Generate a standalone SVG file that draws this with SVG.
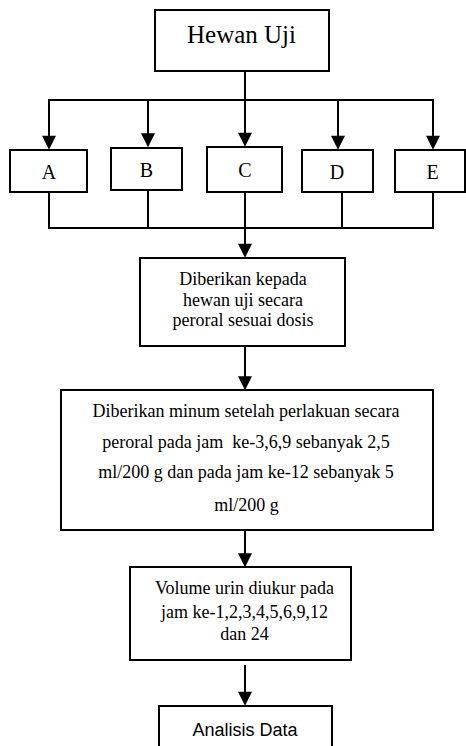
<svg xmlns="http://www.w3.org/2000/svg" width="466" height="746" viewBox="0 0 466 746">
  <style>
    .box { fill: #ffffff; stroke: #000000; stroke-width: 2; }
    .ln { fill: none; stroke: #000000; stroke-width: 2; }
    .t { font-family: "Liberation Serif", "Times New Roman", serif; font-size: 18px; fill: #000000; text-anchor: middle; white-space: pre; }
    .big { font-size: 25px; }
    .let { font-size: 20px; }
    .sans { font-family: "Liberation Sans", Arial, sans-serif; font-size: 18px; }
  </style>
  <defs>
    <marker id="arr" viewBox="0 0 10 10" refX="7" refY="5" markerWidth="15" markerHeight="14" markerUnits="userSpaceOnUse" orient="auto">
      <path d="M0,0 L10,5 L0,10 Z" fill="#000000"/>
    </marker>
  </defs>

  <g id="connectors">
    <line class="ln" x1="245" y1="71" x2="245" y2="100"/>
    <line class="ln" x1="48" y1="100" x2="434" y2="100"/>
    <line class="ln" x1="49" y1="100" x2="49" y2="145.5" marker-end="url(#arr)"/>
    <line class="ln" x1="148" y1="100" x2="148" y2="143" marker-end="url(#arr)"/>
    <line class="ln" x1="245" y1="100" x2="245" y2="142.5" marker-end="url(#arr)"/>
    <line class="ln" x1="338" y1="100" x2="338" y2="145.5" marker-end="url(#arr)"/>
    <line class="ln" x1="433" y1="100" x2="433" y2="145.5" marker-end="url(#arr)"/>
    <line class="ln" x1="49" y1="192" x2="49" y2="228"/>
    <line class="ln" x1="148" y1="190" x2="148" y2="228"/>
    <line class="ln" x1="342" y1="192" x2="342" y2="228"/>
    <line class="ln" x1="433" y1="192" x2="433" y2="228"/>
    <line class="ln" x1="48" y1="228" x2="434" y2="228"/>
    <line class="ln" x1="245" y1="192" x2="245" y2="253.5" marker-end="url(#arr)"/>
    <line class="ln" x1="245" y1="346" x2="245" y2="386" marker-end="url(#arr)"/>
    <line class="ln" x1="245" y1="530" x2="245" y2="563" marker-end="url(#arr)"/>
    <line class="ln" x1="245" y1="665" x2="245" y2="701.5" marker-end="url(#arr)"/>
  </g>

  <g id="hewan-uji">
    <rect class="box" x="155" y="10" width="174" height="61"/>
    <text class="t big" x="241.5" y="43">Hewan Uji</text>
  </g>
  <g id="A">
    <rect class="box" x="10" y="150" width="77" height="42"/>
    <text class="t let" x="49" y="179">A</text>
  </g>
  <g id="B">
    <rect class="box" x="111" y="148" width="71" height="42"/>
    <text class="t let" x="146.5" y="176.5">B</text>
  </g>
  <g id="C">
    <rect class="box" x="207" y="147" width="75" height="45"/>
    <text class="t let" x="245" y="177">C</text>
  </g>
  <g id="D">
    <rect class="box" x="302" y="150" width="71" height="42"/>
    <text class="t let" x="337" y="179">D</text>
  </g>
  <g id="E">
    <rect class="box" x="395" y="150" width="70" height="42"/>
    <text class="t let" x="432.5" y="178.5">E</text>
  </g>
  <g id="diberikan">
    <rect class="box" x="140" y="258" width="205" height="88"/>
    <text class="t" x="243" y="285">Diberikan kepada</text>
    <text class="t" x="243" y="306">hewan uji secara</text>
    <text class="t" x="243" y="326">peroral sesuai dosis</text>
  </g>
  <g id="minum">
    <rect class="box" x="61" y="390" width="372" height="140"/>
    <text class="t" x="246" y="417">Diberikan minum setelah perlakuan secara</text>
    <text class="t" x="246" y="448">peroral pada jam  ke-3,6,9 sebanyak 2,5</text>
    <text class="t" x="246" y="478">ml/200 g dan pada jam ke-12 sebanyak 5</text>
    <text class="t" x="246.5" y="510.5">ml/200 g</text>
  </g>
  <g id="volume">
    <rect class="box" x="130" y="567" width="221" height="93"/>
    <text class="t" x="244.5" y="594">Volume urin diukur pada</text>
    <text class="t" x="244.5" y="618">jam ke-1,2,3,4,5,6,9,12</text>
    <text class="t" x="244.5" y="640">dan 24</text>
  </g>
  <g id="analisis">
    <rect class="box" x="159" y="706" width="173" height="60"/>
    <text class="t sans" x="245" y="736">Analisis Data</text>
  </g>
</svg>
